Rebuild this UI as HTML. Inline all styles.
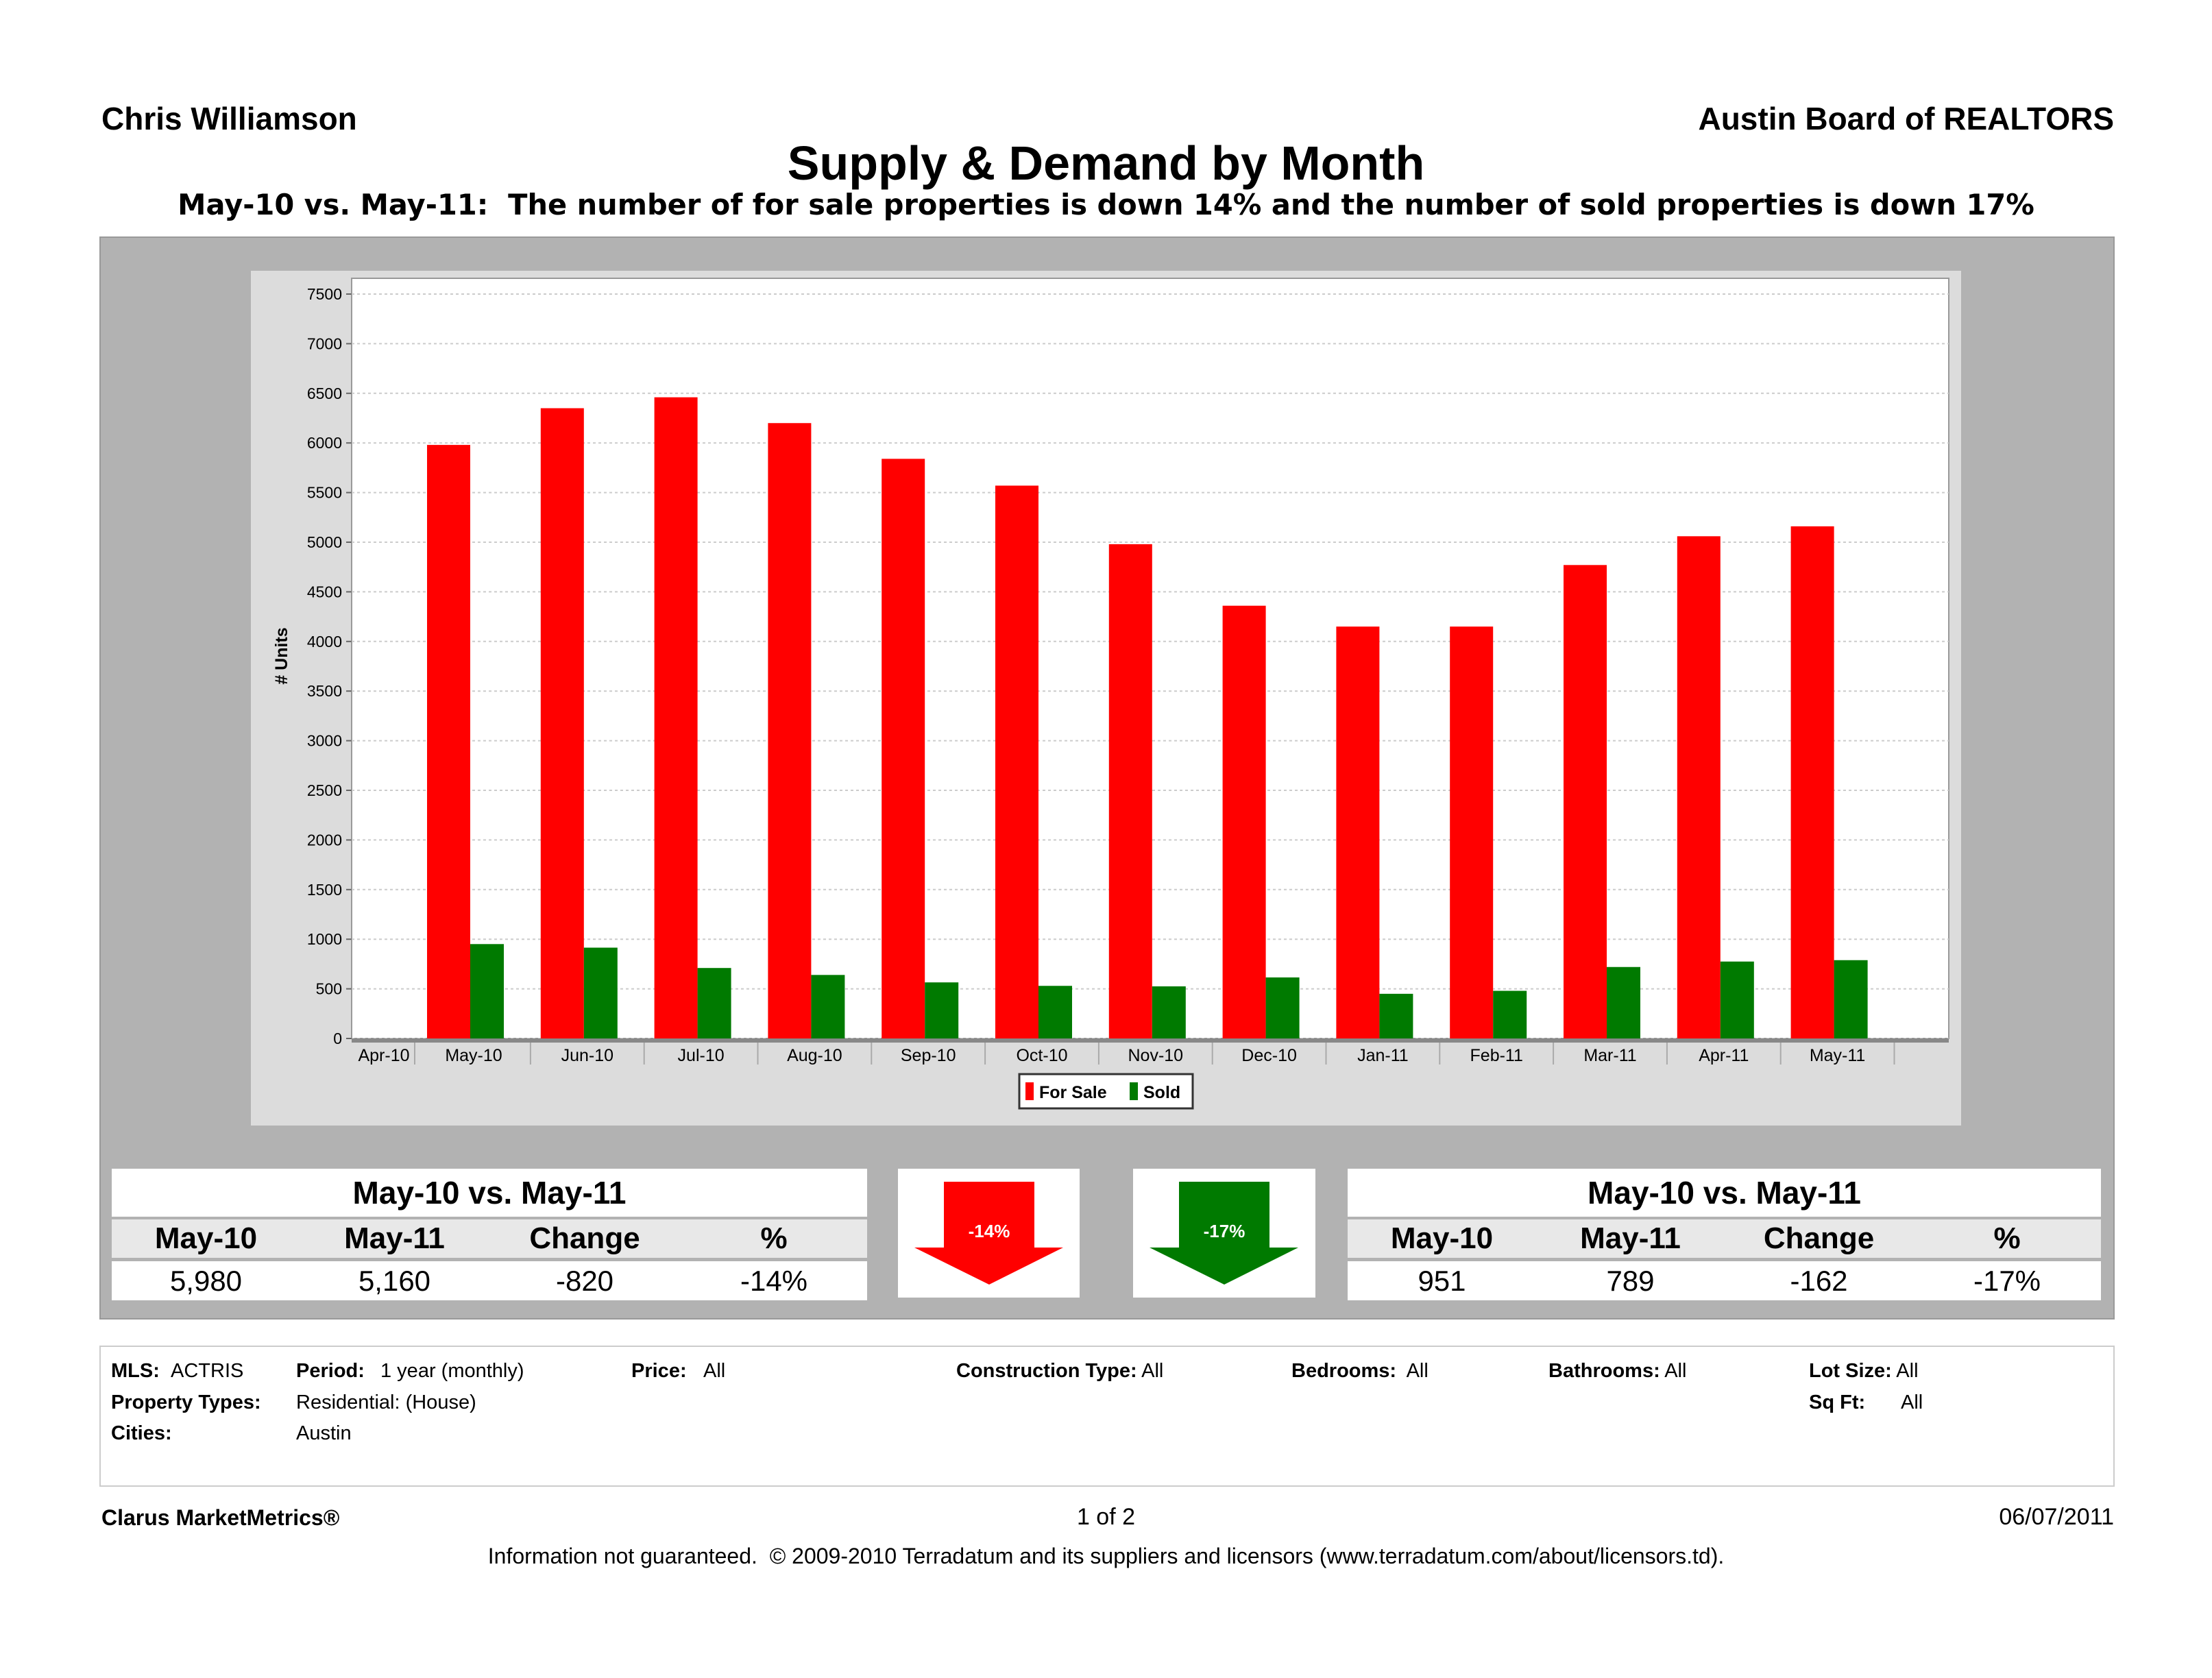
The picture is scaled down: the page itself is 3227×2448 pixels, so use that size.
<!DOCTYPE html>
<html><head><meta charset="utf-8">
<style>
body{margin:0;background:#fff;}
#page{position:relative;width:3227px;height:2448px;overflow:hidden;font-family:"Liberation Sans",sans-serif;color:#000;}
.t{position:absolute;white-space:nowrap;}
.b{font-weight:bold;}
.info{position:absolute;font-size:29px;white-space:nowrap;}
.cell{position:absolute;text-align:center;}
</style></head>
<body>
<div id="page">
<div class="t b" style="left:148px;top:146px;font-size:46px;">Chris Williamson</div>
<div class="t b" style="right:143px;top:146px;font-size:46px;">Austin Board of REALTORS</div>
<div class="t b" style="left:0;width:3227px;text-align:center;top:198px;font-size:70px;">Supply &amp; Demand by Month</div>
<div class="t b" style="left:0;width:3227px;text-align:center;top:274px;font-size:41.5px;font-family:'DejaVu Sans',sans-serif;">May-10 vs. May-11:&nbsp; The number of for sale properties is down 14% and the number of sold properties is down 17%</div>

<div style="position:absolute;left:145px;top:345px;width:2936px;height:1576px;background:#b2b2b2;border:2px solid #999;"></div>

<svg id="chart" style="position:absolute;left:0;top:0" width="3227" height="2448"></svg>

<div>
<div class="cell b" style="left:163px;top:1705px;width:1102px;height:70px;background:#fff;line-height:70px;font-size:46px;">May-10 vs. May-11</div>
<div style="position:absolute;left:163px;top:1779px;width:1102px;height:56px;background:#e8e8e8;"></div>
<div class="cell b" style="left:163px;top:1779px;width:275px;line-height:56px;font-size:44px;">May-10</div>
<div class="cell b" style="left:438px;top:1779px;width:275px;line-height:56px;font-size:44px;">May-11</div>
<div class="cell b" style="left:713px;top:1779px;width:280px;line-height:56px;font-size:44px;">Change</div>
<div class="cell b" style="left:993px;top:1779px;width:272px;line-height:56px;font-size:44px;">%</div>
<div style="position:absolute;left:163px;top:1840px;width:1102px;height:57px;background:#fff;"></div>
<div class="cell" style="left:163px;top:1840px;width:275px;line-height:57px;font-size:42px;">5,980</div>
<div class="cell" style="left:438px;top:1840px;width:275px;line-height:57px;font-size:42px;">5,160</div>
<div class="cell" style="left:713px;top:1840px;width:280px;line-height:57px;font-size:42px;">-820</div>
<div class="cell" style="left:993px;top:1840px;width:272px;line-height:57px;font-size:42px;">-14%</div>
</div>

<svg style="position:absolute;left:1310px;top:1705px" width="265" height="188">
<rect width="265" height="188" fill="#fff"/>
<polygon points="67,19 199,19 199,115 241,115 133,169 24,115 67,115" fill="#f00"/>
<text x="133" y="100" text-anchor="middle" font-size="26" font-weight="bold" fill="#fff" font-family="Liberation Sans, sans-serif">-14%</text>
</svg>
<svg style="position:absolute;left:1653px;top:1705px" width="266" height="188">
<rect width="266" height="188" fill="#fff"/>
<polygon points="67,19 199,19 199,115 241,115 133,169 24,115 67,115" fill="#007a00"/>
<text x="133" y="100" text-anchor="middle" font-size="26" font-weight="bold" fill="#fff" font-family="Liberation Sans, sans-serif">-17%</text>
</svg>

<div>
<div class="cell b" style="left:1966px;top:1705px;width:1099px;height:70px;background:#fff;line-height:70px;font-size:46px;">May-10 vs. May-11</div>
<div style="position:absolute;left:1966px;top:1779px;width:1099px;height:56px;background:#e8e8e8;"></div>
<div class="cell b" style="left:1966px;top:1779px;width:275px;line-height:56px;font-size:44px;">May-10</div>
<div class="cell b" style="left:2241px;top:1779px;width:275px;line-height:56px;font-size:44px;">May-11</div>
<div class="cell b" style="left:2516px;top:1779px;width:275px;line-height:56px;font-size:44px;">Change</div>
<div class="cell b" style="left:2791px;top:1779px;width:274px;line-height:56px;font-size:44px;">%</div>
<div style="position:absolute;left:1966px;top:1840px;width:1099px;height:57px;background:#fff;"></div>
<div class="cell" style="left:1966px;top:1840px;width:275px;line-height:57px;font-size:42px;">951</div>
<div class="cell" style="left:2241px;top:1840px;width:275px;line-height:57px;font-size:42px;">789</div>
<div class="cell" style="left:2516px;top:1840px;width:275px;line-height:57px;font-size:42px;">-162</div>
<div class="cell" style="left:2791px;top:1840px;width:274px;line-height:57px;font-size:42px;">-17%</div>
</div>

<div style="position:absolute;left:145px;top:1963px;width:2936px;height:202px;border:2px solid #ccc;background:#fff;"></div>
<div class="info b" style="left:162px;top:1984px">MLS:</div>
<div class="info" style="left:249px;top:1984px">ACTRIS</div>
<div class="info b" style="left:432px;top:1984px">Period:</div>
<div class="info" style="left:555px;top:1984px">1 year (monthly)</div>
<div class="info b" style="left:921px;top:1984px">Price:</div>
<div class="info" style="left:1026px;top:1984px">All</div>
<div class="info" style="left:1395px;top:1984px"><b>Construction Type:</b> All</div>
<div class="info" style="left:1884px;top:1984px"><b>Bedrooms:</b>&nbsp; All</div>
<div class="info" style="left:2259px;top:1984px"><b>Bathrooms:</b> All</div>
<div class="info" style="left:2639px;top:1984px"><b>Lot Size:</b> All</div>
<div class="info b" style="left:162px;top:2030px">Property Types:</div>
<div class="info" style="left:432px;top:2030px">Residential: (House)</div>
<div class="info b" style="left:2639px;top:2030px">Sq Ft:</div>
<div class="info" style="left:2773px;top:2030px">All</div>
<div class="info b" style="left:162px;top:2075px">Cities:</div>
<div class="info" style="left:432px;top:2075px">Austin</div>

<div class="t b" style="left:148px;top:2196px;font-size:32px;">Clarus MarketMetrics®</div>
<div class="t" style="left:0;width:3227px;text-align:center;top:2194px;font-size:34px;">1 of 2</div>
<div class="t" style="right:143px;top:2194px;font-size:34px;">06/07/2011</div>
<div class="t" style="left:0;width:3227px;text-align:center;top:2252px;font-size:32px;">Information not guaranteed.&nbsp; © 2009-2010 Terradatum and its suppliers and licensors (www.terradatum.com/about/licensors.td).</div>
</div>

<script>
const categories = ["Apr-10","May-10","Jun-10","Jul-10","Aug-10","Sep-10","Oct-10","Nov-10","Dec-10","Jan-11","Feb-11","Mar-11","Apr-11","May-11"];
const forSale = [null,5980,6350,6460,6200,5840,5570,4980,4360,4150,4150,4770,5060,5160];
const sold = [null,951,915,710,640,565,530,525,615,450,480,720,775,789];
const yTicks = [0,500,1000,1500,2000,2500,3000,3500,4000,4500,5000,5500,6000,6500,7000,7500];

const NS = "http://www.w3.org/2000/svg";
const svg = document.getElementById('chart');
const PL = 513, PR = 2843, PT = 406, PB = 1515;
function y(v){ return PB - v / 7500 * (PB - 429); }
function xc(i){ return i === 0 ? 560 : 691 + (i - 1) * 165.8; }
function mk(tag, attrs){ const e = document.createElementNS(NS, tag); for (const k in attrs) e.setAttribute(k, attrs[k]); svg.appendChild(e); return e; }

let e = mk('rect', {x:366, y:395, width:2495, height:1247, fill:'#dcdcdc'});


e = mk('rect', {x:PL, y:PT, width:PR-PL, height:PB-PT, fill:'#fff', stroke:'#999', 'stroke-width':2});



yTicks.forEach(v => {
  const g = mk('line', {x1:PL, x2:PR, y1:y(v), y2:y(v), stroke:'#ccc', 'stroke-width':2, 'stroke-dasharray':'4,4'});
  
  
  mk('line', {x1:PL-8, x2:PL, y1:y(v), y2:y(v), stroke:'#666', 'stroke-width':2});
  const t = mk('text', {x:PL-14, y:y(v)+8, 'text-anchor':'end', 'font-size':23, 'font-family':'Liberation Sans, sans-serif'});
  t.textContent = v;
  
  
});
mk('line', {x1:PL, x2:PR, y1:PB+3, y2:PB+3, stroke:'#888', 'stroke-width':6});

categories.forEach((c, i) => {
  const cx = xc(i);
  if (forSale[i] != null) {
    const r = mk('rect', {x:cx-68, y:y(forSale[i]), width:63, height:PB-y(forSale[i]), fill:'#ff0000'});
    
    
  }
  if (sold[i] != null) {
    const g = mk('rect', {x:cx-5, y:y(sold[i]), width:49, height:PB-y(sold[i]), fill:'#007a00'});
    
    
  }
  const t = mk('text', {x:cx, y:1548, 'text-anchor':'middle', 'font-size':25, 'font-family':'Liberation Sans, sans-serif'});
  t.textContent = c;
  
  
  const dx = i === 0 ? 605 : cx + 82.9;
  mk('line', {x1:dx, x2:dx, y1:PB+6, y2:PB+38, stroke:'#aaa', 'stroke-width':2});
});

const yt = mk('text', {x:0, y:0, transform:'translate(419,957) rotate(-90)', 'text-anchor':'middle', 'font-size':25, 'font-weight':'bold', 'font-family':'Liberation Sans, sans-serif'});
yt.textContent = '# Units';



const lg = mk('rect', {x:1487, y:1567, width:253, height:50, fill:'#fff', stroke:'#333', 'stroke-width':3});


mk('rect', {x:1496, y:1579, width:12, height:26, fill:'#ff0000'});
let lt = mk('text', {x:1516, y:1602, 'font-size':25, 'font-weight':'bold', 'font-family':'Liberation Sans, sans-serif'});
lt.textContent = 'For Sale';


mk('rect', {x:1648, y:1579, width:12, height:26, fill:'#007a00'});
lt = mk('text', {x:1668, y:1602, 'font-size':25, 'font-weight':'bold', 'font-family':'Liberation Sans, sans-serif'});
lt.textContent = 'Sold';


</script>
</body></html>
